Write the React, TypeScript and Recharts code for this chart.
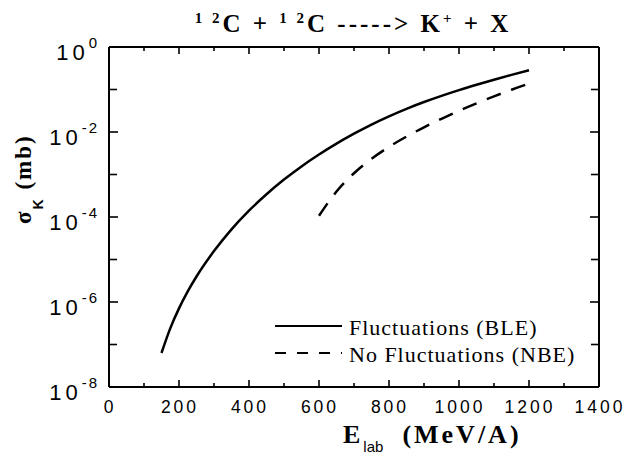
import React from "react";
import { LineChart, Line, XAxis, YAxis } from "recharts";

// ---- data ----
const bleEnergy = [150, 175, 200, 225, 250, 300, 350, 400, 450, 500, 550, 600, 650, 700, 750, 800, 850, 900, 950, 1000, 1050, 1100, 1150, 1200];
const bleSigma = [6.31e-8, 2.4e-7, 7.08e-7, 1.78e-6, 3.98e-6, 1.58e-5, 5.13e-5, 1.41e-4, 3.43e-4, 7.59e-4, 1.55e-3, 2.95e-3, 5.31e-3, 9.12e-3, 1.5e-2, 2.34e-2, 3.51e-2, 5.07e-2, 7.08e-2, 9.66e-2, 0.129, 0.17, 0.221, 0.285];
const nbeEnergy = [600, 650, 700, 750, 800, 850, 900, 950, 1000, 1050, 1100, 1150, 1200];
const nbeSigma = [1.07e-4, 3.98e-4, 1.07e-3, 2.34e-3, 4.47e-3, 7.8e-3, 1.29e-2, 2.04e-2, 3.16e-2, 4.73e-2, 6.9e-2, 9.89e-2, 0.138];

const xTicks = [0, 100, 200, 300, 400, 500, 600, 700, 800, 900, 1000, 1100, 1200, 1300, 1400];
const yTicks = [1e-8, 1e-7, 1e-6, 1e-5, 1e-4, 1e-3, 1e-2, 1e-1, 1];
const seriesNames = ["Fluctuations (BLE)", "No Fluctuations (NBE)"];

const bleData = bleEnergy.map((E, i) => ({ E, s: bleSigma[i] }));
const nbeData = nbeEnergy.map((E, i) => ({ E, s: nbeSigma[i] }));

const SANS = "Liberation Sans, Arial, Helvetica, sans-serif";
const SERIF = "Liberation Serif, Times New Roman, DejaVu Serif, serif";

const XTickBottom = (props: any) => {
  const { x, y, payload } = props;
  const v = payload.value;
  const major = v % 200 === 0;
  return (
    <g>
      <line x1={x} x2={x} y1={y} y2={y - (major ? 7 : 4)} stroke="#000" strokeWidth={1.6} />
      {major && (
        <text x={x + 1} y={y + 26} textAnchor="middle" fontFamily={SANS} fontSize={17.5} letterSpacing={3} fill="#000">
          {v}
        </text>
      )}
    </g>
  );
};

const XTickTop = (props: any) => {
  const { x, y, payload } = props;
  const major = payload.value % 200 === 0;
  return <line x1={x} x2={x} y1={y} y2={y + (major ? 7 : 4)} stroke="#000" strokeWidth={1.6} />;
};

const YTickLeft = (props: any) => {
  const { x, y, payload } = props;
  const exp = Math.round(Math.log10(payload.value));
  const major = exp % 2 === 0;
  return (
    <g>
      <line x1={x} x2={x + (major ? 9 : 8)} y1={y} y2={y} stroke="#000" strokeWidth={1.6} />
      {major && (
        <text x={x - 10} y={y + 13} textAnchor="end" fontFamily={SANS} fontSize={22} letterSpacing={4} fill="#000">
          10
          <tspan fontSize={15} dy={-12} letterSpacing={2}>{exp === 0 ? "0" : String(exp)}</tspan>
        </text>
      )}
    </g>
  );
};

const YTickRight = (props: any) => {
  const { x, y, payload } = props;
  const exp = Math.round(Math.log10(payload.value));
  const major = exp % 2 === 0;
  return <line x1={x} x2={x - (major ? 9 : 8)} y1={y} y2={y} stroke="#000" strokeWidth={1.6} />;
};

export default function App() {
  return (
    <div style={{ position: "relative", width: 624, height: 455, background: "#fff" }}>
      <style>{"body{margin:0;}"}</style>
      <LineChart width={624} height={455} margin={{ top: 37, right: 15, bottom: 38, left: 69 }}>
        <XAxis
          xAxisId="b"
          dataKey="E"
          type="number"
          domain={[0, 1400]}
          ticks={xTicks}
          interval={0}
          height={30}
          tickSize={0}
          tickMargin={0}
          tick={<XTickBottom />}
          axisLine={{ stroke: "#000", strokeWidth: 2 }}
          tickLine={false}
          allowDataOverflow
        />
        <XAxis
          xAxisId="t"
          orientation="top"
          dataKey="E"
          type="number"
          domain={[0, 1400]}
          ticks={xTicks}
          interval={0}
          height={10}
          tickSize={0}
          tickMargin={0}
          tick={<XTickTop />}
          axisLine={{ stroke: "#000", strokeWidth: 2 }}
          tickLine={false}
          allowDataOverflow
        />
        <YAxis
          yAxisId="l"
          type="number"
          scale="log"
          domain={[1e-8, 1]}
          ticks={yTicks}
          interval={0}
          width={40}
          tickSize={0}
          tickMargin={0}
          tick={<YTickLeft />}
          axisLine={{ stroke: "#000", strokeWidth: 2 }}
          tickLine={false}
          allowDataOverflow
        />
        <YAxis
          yAxisId="r"
          orientation="right"
          type="number"
          scale="log"
          domain={[1e-8, 1]}
          ticks={yTicks}
          interval={0}
          width={10}
          tickSize={0}
          tickMargin={0}
          tick={<YTickRight />}
          axisLine={{ stroke: "#000", strokeWidth: 2 }}
          tickLine={false}
          allowDataOverflow
        />
        <Line
          xAxisId="b"
          yAxisId="l"
          data={bleData}
          dataKey="s"
          name={seriesNames[0]}
          type="monotone"
          stroke="#000"
          strokeWidth={2.5}
          dot={false}
          isAnimationActive={false}
        />
        <Line
          xAxisId="b"
          yAxisId="l"
          data={nbeData}
          dataKey="s"
          name={seriesNames[1]}
          type="monotone"
          stroke="#000"
          strokeWidth={2.5}
          strokeDasharray="15 11"
          dot={false}
          isAnimationActive={false}
        />
      </LineChart>
      <svg
        width={624}
        height={455}
        style={{ position: "absolute", left: 0, top: 0, pointerEvents: "none" }}
      >
        {/* title */}
        <text x={353} y={32} textAnchor="middle" fontFamily={SERIF} fontWeight="bold" fontSize={25} letterSpacing={3} style={{ whiteSpace: "pre" }} fill="#000">
          <tspan fontSize={15} dy={-9}>1 2</tspan>
          <tspan dy={9}>C + </tspan>
          <tspan fontSize={15} dy={-9}>1 2</tspan>
          <tspan dy={9}>{"C -----> K"}</tspan>
          <tspan fontSize={15} dy={-9}>+</tspan>
          <tspan dy={9}>{" + X"}</tspan>
        </text>
        {/* x label */}
        <text x={343} y={443} fontFamily={SERIF} fontWeight="bold" fontSize={26} letterSpacing={3} style={{ whiteSpace: "pre" }} fill="#000">
          E
          <tspan fontFamily={SANS} fontWeight="normal" fontSize={15} letterSpacing={0} dy={9}>lab</tspan>
          <tspan dy={-9}>{"  (MeV/A)"}</tspan>
        </text>
        {/* y label */}
        <text x={0} y={0} transform="translate(31,224) rotate(-90)" fontFamily={SERIF} fontWeight="bold" fontSize={23} letterSpacing={2} style={{ whiteSpace: "pre" }} fill="#000">
          σ
          <tspan fontFamily={SANS} fontSize={14} dy={12}>K</tspan>
          <tspan dy={-12}>{" (mb)"}</tspan>
        </text>
        {/* legend */}
        <line x1={275} x2={342} y1={326} y2={326} stroke="#000" strokeWidth={2.2} />
        <text x={349} y={335} fontFamily={SERIF} fontSize={22} letterSpacing={1} fill="#000">{seriesNames[0]}</text>
        <line x1={275} x2={342} y1={353} y2={353} stroke="#000" strokeWidth={2.2} strokeDasharray="11 11" />
        <text x={349} y={362} fontFamily={SERIF} fontSize={22} letterSpacing={1} fill="#000">{seriesNames[1]}</text>
      </svg>
    </div>
  );
}
